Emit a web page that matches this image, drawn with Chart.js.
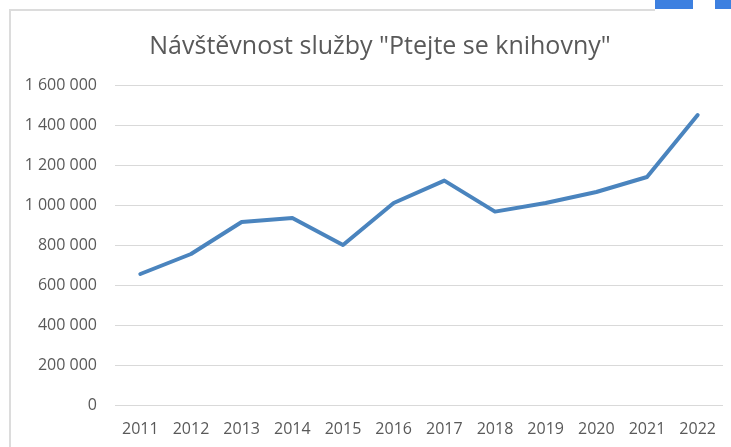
<!DOCTYPE html>
<html>
<head>
<meta charset="utf-8">
<script src="https://cdn.jsdelivr.net/npm/chart.js@4/dist/chart.umd.min.js"></script>
<style>
  html, body { margin: 0; padding: 0; background: #ffffff; }
  #wrap { position: relative; width: 731px; height: 447px; overflow: hidden; }
  .deco { position: absolute; }
  #c { position: absolute; left: 0; top: 0; }
</style>
</head>
<body>
<div id="wrap">
  <div class="deco" style="left:10px; top:9px; width:645px; height:2px; background:#dcdcdc;"></div>
  <div class="deco" style="left:9px; top:9px; width:2px; height:438px; background:#dcdcdc;"></div>
  <div class="deco" style="left:655px; top:0; width:38px; height:9px; background:#3d80e0;"></div>
  <div class="deco" style="left:715px; top:0; width:16px; height:9px; background:#3d80e0;"></div>
  <canvas id="c" width="731" height="447"></canvas>
</div>
<script>
const titleText = 'Návštěvnost služby "Ptejte se knihovny"';
const years = ['2011','2012','2013','2014','2015','2016','2017','2018','2019','2020','2021','2022'];
const visits = [655000, 755000, 915000, 935000, 800000, 1010000, 1122000, 967000, 1010000, 1065000, 1140000, 1450000];
const yMin = 0;
const yMax = 1600000;
const yStep = 200000;

function fmt(v) {
  return String(v).replace(/\B(?=(\d{3})+(?!\d))/g, ' ');
}

const textColor = '#595959';
const fontFamily = '"Open Sans", "Noto Sans", sans-serif';

const shiftTitle = {
  id: 'shiftTitle',
  afterLayout(chart) {
    const t = chart.titleBlock;
    if (t) { t.left = 33; t.right = 727; t.width = 694; }
  }
};

new Chart(document.getElementById('c'), {
  type: 'line',
  data: {
    labels: years,
    datasets: [{
      data: visits,
      borderColor: '#4a84be',
      borderWidth: 4,
      pointRadius: 0,
      pointHoverRadius: 0,
      tension: 0,
      fill: false,
      borderCapStyle: 'round',
      borderJoinStyle: 'round'
    }]
  },
  plugins: [shiftTitle],
  options: {
    responsive: false,
    animation: false,
    events: [],
    layout: { padding: { left: 11, right: 1, top: 10, bottom: 7 } },
    plugins: {
      legend: { display: false },
      tooltip: { enabled: false },
      title: {
        display: true,
        text: titleText,
        color: textColor,
        font: { family: fontFamily, size: 25, weight: 'normal', lineHeight: 1.2 },
        padding: { top: 22, bottom: 23 }
      }
    },
    scales: {
      x: {
        offset: true,
        afterFit: function(scale) { scale.height = 35; },
        grid: { display: false, drawTicks: false },
        border: { display: false },
        ticks: {
          color: textColor,
          font: { family: fontFamily, size: 16 },
          padding: 15,
          maxRotation: 0,
          autoSkip: false
        }
      },
      y: {
        min: yMin,
        max: yMax,
        afterFit: function(scale) { scale.width = 104; },
        grid: { color: '#d9d9d9', lineWidth: 1, drawTicks: false },
        border: { display: false },
        ticks: {
          stepSize: yStep,
          color: textColor,
          font: { family: fontFamily, size: 16 },
          padding: 18,
          callback: function(v) { return fmt(v); }
        }
      }
    }
  }
});
</script>
</body>
</html>
